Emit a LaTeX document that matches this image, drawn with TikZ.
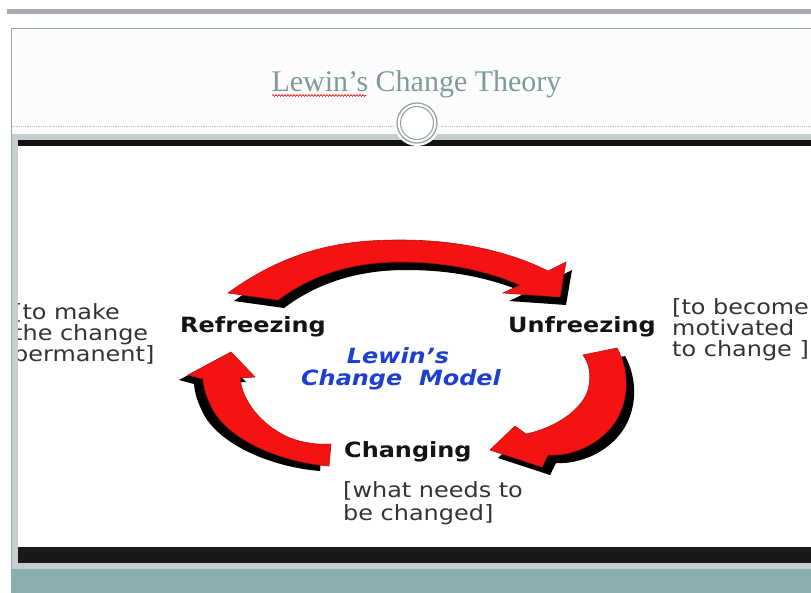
\documentclass[tikz,border=0pt]{standalone}
\usepackage{fontspec}
\setmainfont{DejaVu Sans}
\newfontfamily\vfont[FakeStretch=1.14]{DejaVu Sans}
\newfontfamily\tfont{Liberation Serif}
\usetikzlibrary{decorations.pathmorphing}

\definecolor{topbar}{HTML}{A8ACB2}
\definecolor{slideedge}{HTML}{8FAAAA}
\definecolor{bandgray}{HTML}{C6CDCF}
\definecolor{footteal}{HTML}{8AADAD}
\definecolor{titlec}{HTML}{7E9A9C}
\definecolor{ringc}{HTML}{98A3A5}
\definecolor{arrowred}{HTML}{F41212}
\definecolor{arrowedge}{HTML}{B81010}
\definecolor{modelblue}{HTML}{1E3FD0}
\definecolor{notegray}{HTML}{343434}

% draws one curved cycle arrow: black shadow shifted by #1, red body on top
\newcommand{\cyclearrow}[2]{%
  \fill[black, shift={(#1)}] #2;
  \filldraw[fill=arrowred, draw=arrowedge, line width=0.6pt] #2;
}

\begin{document}
\begin{tikzpicture}[x=1pt, y=-1pt,
  stagelabel/.style={font=\vfont\fontsize{21}{25}\selectfont\bfseries, text=black!92, inner sep=0pt},
  notetext/.style={font=\vfont\fontsize{21}{21}\selectfont, text=notegray, inner sep=0pt, align=left},
  modeltext/.style={font=\vfont\fontsize{21}{22}\selectfont\bfseries\itshape, text=modelblue, inner sep=0pt}]
\useasboundingbox (0,0) rectangle (811,593);
\clip (0,0) rectangle (811,593);
\fill[white] (0,0) rectangle (811,593);

% window bar above the slide
\fill[topbar] (7,9) rectangle (811,14);

% slide sheet with its thin outline
\fill[white!98!gray] (11,28) rectangle (811,593);
\draw[slideedge, line width=0.8pt] (811,28) -- (11,28) -- (11,593);

% title with spell-check underline
\node[font=\tfont\fontsize{30}{34}\selectfont, text=titlec, anchor=base, inner sep=0pt] (title) at (416.5,92) {Lewin’s Change Theory};
\draw[red!85!black, line width=0.6pt, decorate, decoration={snake, amplitude=0.9pt, segment length=3pt}] (272,95.5) -- (366,95.5);

% dotted divider
\draw[gray!55, line width=0.9pt, dash pattern=on 1.2pt off 1pt] (12,126) -- (811,126);

% picture frame
\fill[bandgray] (12,134) rectangle (811,141);
\fill[white] (18,146) rectangle (811,547);
\fill[black!93] (18,140) rectangle (811,146);

% ring ornament on the divider
\fill[white] (417,123) circle (23);
\draw[ringc, line width=1.3pt, fill=white] (417,123) circle (20);
\draw[ringc, line width=1.1pt] (417,123) circle (16.5);

% cycle arrows
\cyclearrow{6,8}{(228,293) .. controls (290,248) and (345,240) .. (400,240) .. controls (460,240) and (510,252) .. (548,271) -- (566,262) -- (560,297) -- (503,293) -- (520,285) .. controls (480,268) and (440,262) .. (400,262) .. controls (350,262) and (310,276) .. (278,300) -- cycle}
\cyclearrow{8,8}{(583,355) -- (617,348) .. controls (632,375) and (630,415) .. (600,438) .. controls (585,450) and (565,456) .. (548,455) -- (542,467) -- (490,450) -- (515,426) -- (526,434) .. controls (555,428) and (582,410) .. (588,390) .. controls (592,375) and (589,363) .. (583,355) -- cycle}
\cyclearrow{-9,5}{(331,444) -- (329,466) .. controls (280,462) and (230,440) .. (213,410) .. controls (207,398) and (204,390) .. (203,379) -- (188,375) -- (231,352) -- (255,377) -- (240,378) .. controls (242,400) and (260,425) .. (290,438) .. controls (303,443) and (318,445) .. (331,444) -- cycle}

% stage labels
\node[stagelabel, anchor=base west] (refreeze) at (180,333) {Refreezing};
\node[stagelabel, anchor=base west] (unfreeze) at (508,333) {Unfreezing};
\node[stagelabel, anchor=base west] (changing) at (344,457) {Changing};

% centre caption
\node[modeltext, anchor=base] (lewin) at (398,363) {Lewin’s};
\node[modeltext, anchor=base] (model) at (401,385) {Change\ \ Model};

% notes beside each stage
\node[notetext, anchor=base west] (noteR1) at (13,320) {[to make};
\node[notetext, anchor=base west] (noteR2) at (13,341) {the change};
\node[notetext, anchor=base west] (noteR3) at (13,362) {permanent]};
\node[notetext, anchor=base west] (noteU1) at (672,315) {[to become};
\node[notetext, anchor=base west] (noteU2) at (672,336) {motivated};
\node[notetext, anchor=base west] (noteU3) at (672,356) {to change ]};
\node[notetext, anchor=base west] (noteC1) at (343,497) {[what needs to};
\node[notetext, anchor=base west] (noteC2) at (343,520) {be changed]};

% left edge of the picture frame, over the clipped note
\fill[bandgray] (12,134) rectangle (18,570);

% lower frame and footer band
\fill[black!90] (18,547) rectangle (811,563);
\fill[bandgray] (12,563) rectangle (811,569);
\fill[footteal] (11,569) rectangle (811,593);
\end{tikzpicture}
\end{document}
